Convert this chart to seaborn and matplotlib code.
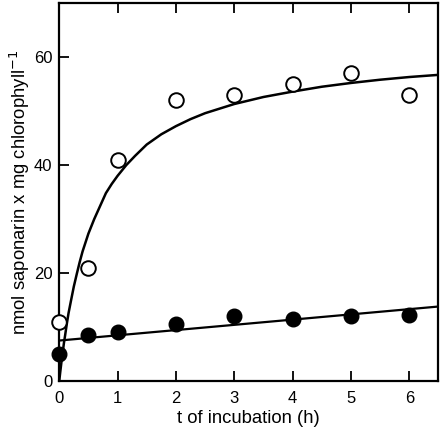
import seaborn as sns
import matplotlib.pyplot as plt
import pandas as pd

# measured points
t_points = [0, 0.5, 1, 2, 3, 4, 5, 6]
open_vals = [11, 21, 41, 52, 53, 55, 57, 53]
filled_vals = [5, 8.5, 9, 10.5, 12, 11.5, 12, 12.2]

# fitted curves
t_fit_open = [0, 0.02, 0.04, 0.06, 0.08, 0.1, 0.13, 0.16, 0.2, 0.25, 0.3, 0.35,
              0.4, 0.5, 0.6, 0.7, 0.8, 0.9, 1.0, 1.15, 1.3, 1.5, 1.75, 2.0,
              2.25, 2.5, 3.0, 3.5, 4.0, 4.5, 5.0, 5.5, 6.0, 6.5]
y_fit_open = [0, 1.9, 3.7, 5.3, 7.0, 8.4, 10.6, 12.6, 14.8, 17.5, 19.8, 22.0,
              24.0, 27.3, 30.0, 32.4, 34.8, 36.5, 38.0, 40.0, 41.7, 43.8, 45.7, 47.2,
              48.5, 49.6, 51.3, 52.6, 53.6, 54.5, 55.2, 55.8, 56.3, 56.7]
t_fit_filled = [0, 6.5]
y_fit_filled = [7.5, 13.8]

pts = pd.DataFrame({"t": t_points, "open": open_vals, "filled": filled_vals})
fit_open = pd.DataFrame({"t": t_fit_open, "y": y_fit_open})
fit_filled = pd.DataFrame({"t": t_fit_filled, "y": y_fit_filled})

sns.set_style("ticks", {"text.color": "black", "axes.labelcolor": "black",
                        "xtick.color": "black", "ytick.color": "black",
                        "axes.edgecolor": "black"})
plt.rcParams["font.family"] = ["Liberation Sans", "DejaVu Sans"]

fig, ax = plt.subplots(figsize=(4.42, 4.34), dpi=100)

sns.lineplot(data=fit_open, x="t", y="y", color="black", linewidth=1.8, ax=ax,
             sort=False)
sns.lineplot(data=fit_filled, x="t", y="y", color="black", linewidth=1.6, ax=ax,
             sort=False)
ax.plot(pts["t"], pts["filled"], "o", color="black", markersize=10.5,
        clip_on=False, zorder=5)
ax.plot(pts["t"], pts["open"], "o", markerfacecolor="white",
        markeredgecolor="black", markeredgewidth=1.4, markersize=10.5,
        clip_on=False, zorder=5)

ax.set_xlim(0, 6.5)
ax.set_ylim(0, 70)
ax.set_xticks(range(0, 7))
ax.set_yticks([0, 20, 40, 60])
ax.tick_params(direction="in", length=7, width=1.3, labelsize=12, pad=5,
               top=True, right=False)
ax.tick_params(axis="x", pad=7)
for s in ax.spines.values():
    s.set_linewidth(1.6)

ax.set_xlabel("t of incubation (h)", fontsize=13.3, labelpad=3)
ax.set_ylabel("nmol saponarin x mg chlorophyll$^{-1}$", fontsize=13.3, labelpad=1)

fig.subplots_adjust(left=0.134, right=0.992, bottom=0.122, top=0.993)
fig.savefig("out.png", dpi=100)
